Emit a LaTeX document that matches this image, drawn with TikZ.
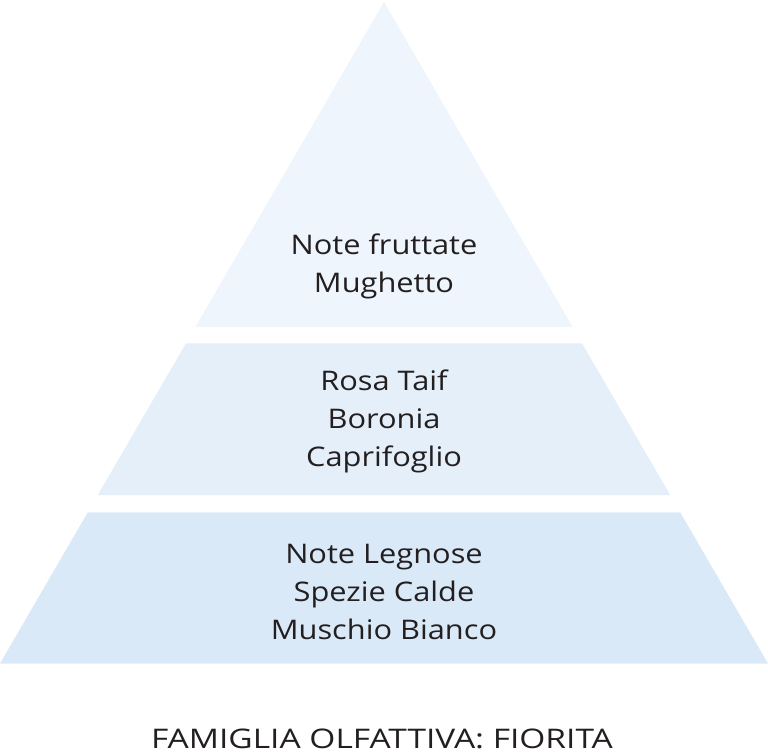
\documentclass[tikz,border=0pt]{standalone}
\usepackage{fontspec}
\setmainfont{Open Sans}
\newfontfamily\notefont{Open Sans}[FakeStretch=1.14]
\newfontfamily\familyfont{Open Sans}[FakeStretch=1.24]
\usepackage{tikz}
\usetikzlibrary{positioning}
\definecolor{pInk}{HTML}{231F20}
\definecolor{pTop}{HTML}{EEF5FC}
\definecolor{pMid}{HTML}{E4EFF9}
\definecolor{pBase}{HTML}{DAE9F7}

\tikzset{
  tier/.style={draw=none},
  notes/.style={font=\notefont\fontsize{27}{38}\selectfont, text=pInk, align=center, inner sep=0pt},
  family/.style={font=\familyfont\fontsize{27}{38}\selectfont, text=pInk, inner sep=0pt}
}

\begin{document}
\begin{tikzpicture}[x=1pt, y=-1pt]
  \useasboundingbox (0,0) rectangle (768,752);
  % tiers
  \fill[tier, pTop] (384,2) -- (572.6,327) -- (195.4,327) -- cycle;
  \fill[tier, pMid] (186,343.3) -- (582,343.3) -- (670.2,495) -- (97.8,495) -- cycle;
  \fill[tier, pBase] (87.8,512.3) -- (680.2,512.3) -- (768,663.5) -- (0,663.5) -- cycle;
  % notes
  \node[notes] (top) at (384,266) {Note fruttate\\Mughetto};
  \node[notes] (heart) at (384,421) {Rosa Taif\\Boronia\\Caprifoglio};
  \node[notes] (base) at (384,592) {Note Legnose\\Spezie Calde\\Muschio Bianco};
  \node[family, anchor=base] (family) at (382,748.5) {FAMIGLIA OLFATTIVA: FIORITA};
\end{tikzpicture}
\end{document}
